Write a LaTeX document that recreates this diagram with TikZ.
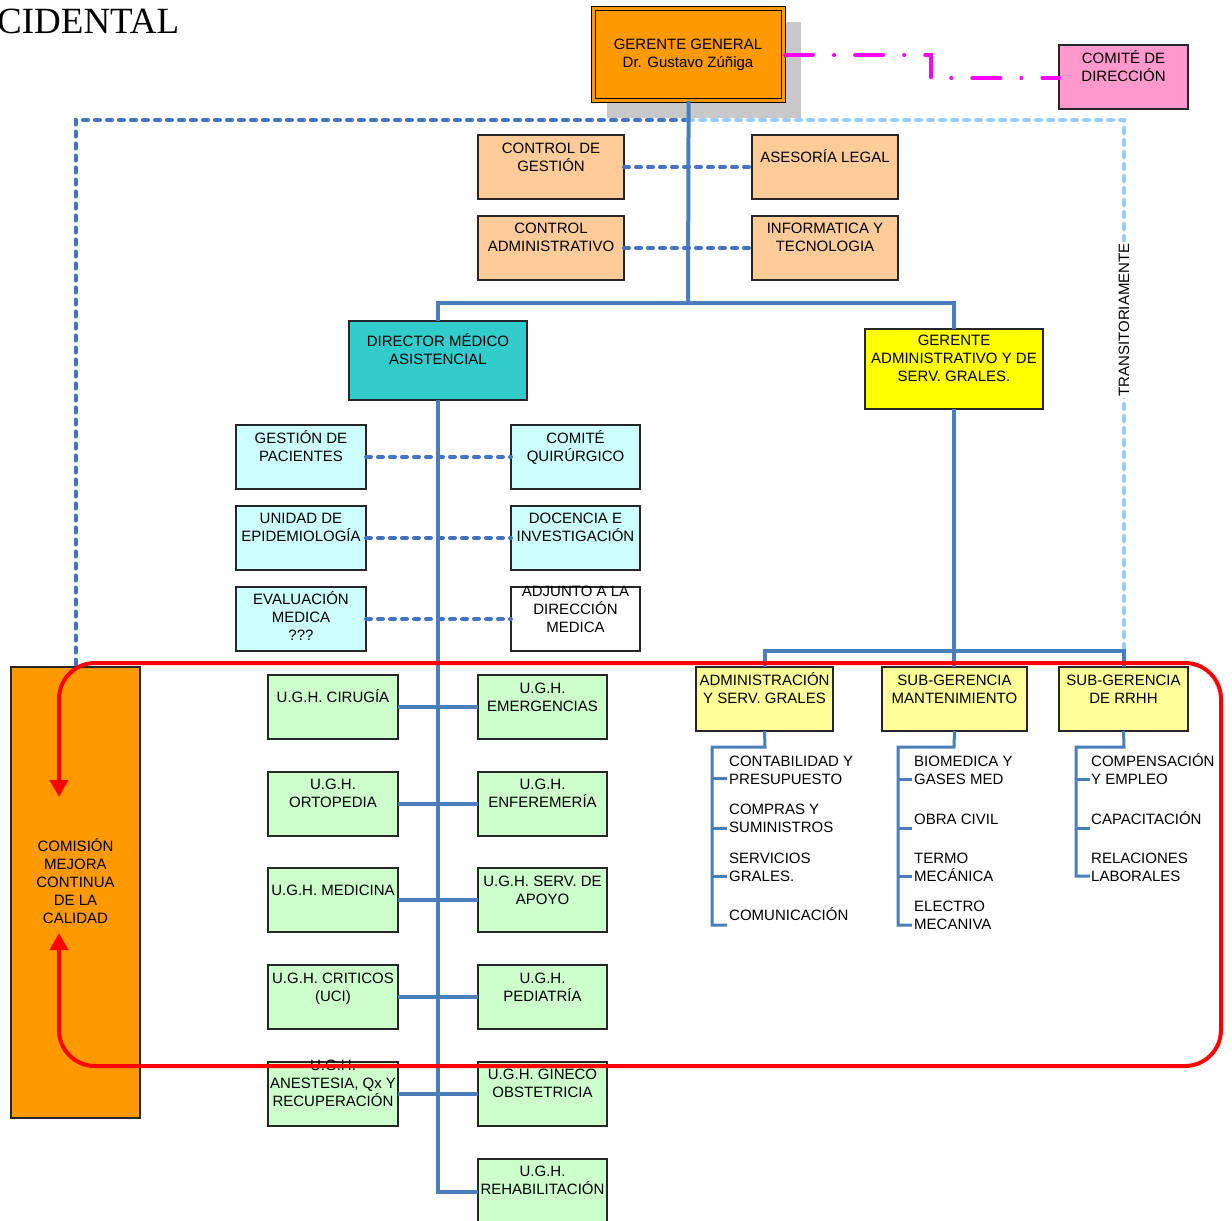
\documentclass[tikz,border=0pt]{standalone}
\usepackage{fontspec}
\setmainfont{Liberation Sans}
\newfontfamily\titlefont{Liberation Serif}
\usetikzlibrary{arrows.meta}
\definecolor{blu}{HTML}{4A7EBB}
\definecolor{dblu}{HTML}{4472C4}
\definecolor{lblu}{HTML}{99CCFF}
\definecolor{ggorange}{HTML}{FF9900}
\definecolor{peach}{HTML}{FFCC99}
\definecolor{teal2}{HTML}{33CCCC}
\definecolor{yel}{HTML}{FFFF00}
\definecolor{lyel}{HTML}{FFFF99}
\definecolor{lcyan}{HTML}{CCFFFF}
\definecolor{lgreen}{HTML}{CCFFCC}
\definecolor{pink2}{HTML}{FF99CC}
\definecolor{mag}{HTML}{FF00FF}
\definecolor{shadowgray}{HTML}{C8C8C8}
\newcommand\obox[8]{%
  \node[bx, fill=#6, minimum width={#4-#2}, minimum height={#5-#3}, anchor=north west] (#1) at (#2,#3) {};
  \node[anchor=base, inner sep=0] (#1-t) at ({(#2+#4)/2},#7) {\parbox[t]{300pt}{\centering #8}};
}
\newcommand\litem[4]{% name, x, baseline, text
  \node[anchor=base west, inner sep=0] (#1) at (#2,#3) {\parbox[t]{200pt}{\raggedright #4}};
}
\begin{document}
\begin{tikzpicture}[x=1pt,y=-1pt,
  every node/.style={font=\fontsize{15}{18}\selectfont, text=black},
  bx/.style={draw=black!85, line width=1.3pt, inner sep=0, outer sep=0},
  bl/.style={draw=blu, line width=4pt},
  dotb/.style={draw=dblu, line width=4pt, dash pattern=on 5pt off 7pt, line cap=round},
  dotl/.style={draw=lblu, line width=4pt, dash pattern=on 5pt off 7pt, line cap=round},
  magline/.style={draw=mag, line width=4pt, dash pattern=on 28pt off 21pt on 0.1pt off 21pt, line cap=round},
  redloop/.style={draw=red, line width=4pt, rounded corners=36pt,
     {Triangle[width=18pt,length=17pt]}-{Triangle[width=18pt,length=17pt]}},
  tick/.style={draw=blu, line width=3pt}
]
\useasboundingbox (0,0) rectangle (1232,1221);
\fill[white] (0,0) rectangle (1232,1221);

% title
\node[anchor=base west, inner sep=0, font=\titlefont\fontsize{37}{40}\selectfont] (title) at (-3,33) {CIDENTAL};

% shadow of gerente general
\fill[shadowgray] (607,22) rectangle (801,118);

% ---------- boxes ----------
\node[draw=black, line width=1.2pt, double=ggorange, double distance=2.5pt, fill=ggorange,
      minimum width=190, minimum height=92, anchor=north west, inner sep=0] (gg) at (593,8) {};
\node[anchor=base, inner sep=0] (gg-t) at (688,49) {\parbox[t]{300pt}{\centering GERENTE GENERAL\\Dr. Gustavo Zúñiga}};

\obox{cd}{1059}{45}{1188}{109}{pink2}{63}{COMITÉ DE\\DIRECCIÓN}

\obox{cg}{478}{135}{624}{199}{peach}{153}{CONTROL DE\\GESTIÓN}
\obox{al}{752}{135}{898}{199}{peach}{162}{ASESORÍA LEGAL}
\obox{ca}{478}{216}{624}{280}{peach}{233}{CONTROL\\ADMINISTRATIVO}
\obox{it}{752}{216}{898}{280}{peach}{233}{INFORMATICA Y\\TECNOLOGIA}

\obox{dma}{349}{321}{527}{400}{teal2}{346}{DIRECTOR MÉDICO\\ASISTENCIAL}
\obox{ga}{865}{329}{1043}{409}{yel}{345}{GERENTE\\ADMINISTRATIVO Y DE\\SERV. GRALES.}

\obox{gp}{236}{425}{366}{489}{lcyan}{443}{GESTIÓN DE\\PACIENTES}
\obox{cq}{511}{425}{640}{489}{lcyan}{443}{COMITÉ\\QUIRÚRGICO}
\obox{ue}{236}{506}{366}{570}{lcyan}{523}{UNIDAD DE\\EPIDEMIOLOGÍA}
\obox{di}{511}{506}{640}{570}{lcyan}{523}{DOCENCIA E\\INVESTIGACIÓN}
\obox{em}{236}{587}{366}{651}{lcyan}{604}{EVALUACIÓN\\MEDICA\\???}
\obox{ad}{511}{587}{640}{651}{white}{596}{ADJUNTO A LA\\DIRECCIÓN\\MEDICA}

\obox{cir}{268}{675}{398}{739}{lgreen}{702}{U.G.H. CIRUGÍA}
\obox{eme}{478}{675}{607}{739}{lgreen}{693}{U.G.H.\\EMERGENCIAS}
\obox{ort}{268}{772}{398}{836}{lgreen}{789}{U.G.H.\\ORTOPEDIA}
\obox{enf}{478}{772}{607}{836}{lgreen}{789}{U.G.H.\\ENFEREMERÍA}
\obox{med}{268}{868}{398}{932}{lgreen}{895}{U.G.H. MEDICINA}
\obox{sap}{478}{868}{607}{932}{lgreen}{886}{U.G.H. SERV. DE\\APOYO}
\obox{cri}{268}{965}{398}{1029}{lgreen}{983}{U.G.H. CRITICOS\\(UCI)}
\obox{ped}{478}{965}{607}{1029}{lgreen}{983}{U.G.H.\\PEDIATRÍA}
\obox{ane}{268}{1062}{398}{1126}{lgreen}{1070}{U.G.H.\\ANESTESIA, Qx Y\\RECUPERACIÓN}
\obox{gin}{478}{1062}{607}{1126}{lgreen}{1079}{U.G.H. GINECO\\OBSTETRICIA}
\obox{reh}{478}{1159}{607}{1225}{lgreen}{1176}{U.G.H.\\REHABILITACIÓN}

\obox{adm}{696}{667}{833}{731}{lyel}{685}{ADMINISTRACIÓN\\Y SERV. GRALES}
\obox{sm}{882}{667}{1027}{731}{lyel}{685}{SUB-GERENCIA\\MANTENIMIENTO}
\obox{rr}{1059}{667}{1188}{731}{lyel}{685}{SUB-GERENCIA\\DE RRHH}

\obox{cm}{11}{667}{140}{1118}{ggorange}{851}{COMISIÓN\\MEJORA\\CONTINUA\\DE LA\\CALIDAD}

% ---------- connectors ----------
\coordinate (jt) at (688,120);
\draw[dotb] (jt) -| (cm.north);
\draw[dotl] (jt) -- (1124,120) -- (1124,651);
\node[rotate=90, fill=white, inner sep=1pt] (tr) at (1124,320) {TRANSITORIAMENTE};

\coordinate (mg1) at (785,55);
\coordinate (mg2) at (1059,78);
\draw[magline] (mg1) -- (931,55) -- (931,78) -- (mg2);

\draw[bl] (gg.south) -- (688,303);
\draw[bl] (dma.north) -- ++(0,-18) -| (ga.north);

\draw[dotb] (cg.east) -- (al.west);
\draw[dotb] (ca.east) -- (it.west);
\draw[dotb] (gp.east) -- (cq.west);
\draw[dotb] (ue.east) -- (di.west);
\draw[dotb] (em.east) -- (ad.west);

\draw[bl] (dma.south) |- (reh.west);
\draw[bl] (cir.east) -- (eme.west);
\draw[bl] (ort.east) -- (enf.west);
\draw[bl] (med.east) -- (sap.west);
\draw[bl] (cri.east) -- (ped.west);
\draw[bl] (ane.east) -- (gin.west);

\draw[bl] (ga.south) -- (ga.south |- sm.north);
\draw[bl] (adm.north) -- ++(0,-16) -| (rr.north);

% lists
\litem{a1}{729}{766}{CONTABILIDAD Y\\PRESUPUESTO}
\litem{a2}{729}{814}{COMPRAS Y\\SUMINISTROS}
\litem{a3}{729}{863}{SERVICIOS\\GRALES.}
\litem{a4}{729}{920}{COMUNICACIÓN}
\litem{m1}{914}{766}{BIOMEDICA Y\\GASES MED}
\litem{m2}{914}{824}{OBRA CIVIL}
\litem{m3}{914}{863}{TERMO\\MECÁNICA}
\litem{m4}{914}{911}{ELECTRO\\MECANIVA}
\litem{r1}{1091}{766}{COMPENSACIÓN\\Y EMPLEO}
\litem{r2}{1091}{824}{CAPACITACIÓN}
\litem{r3}{1091}{863}{RELACIONES\\LABORALES}

\draw[tick] (adm.south) -- (765,747) -- (712,747) -- (712,925) -- (727,925);
\draw[tick] (712,778) -- (727,778);
\draw[tick] (712,828) -- (727,828);
\draw[tick] (712,876) -- (727,876);

\draw[tick] (sm.south) -- (954,747) -- (898,747) -- (898,925) -- (912,925);
\draw[tick] (898,779) -- (912,779);
\draw[tick] (898,828) -- (912,828);
\draw[tick] (898,876) -- (912,876);

\draw[tick] (rr.south) -- (1124,747) -- (1076,747) -- (1076,876) -- (1090,876);
\draw[tick] (1076,779) -- (1090,779);
\draw[tick] (1076,828) -- (1090,828);

% red loop
\coordinate (ra) at (59,797);
\coordinate (rb) at (59,933);
\draw[redloop] (ra) -- (59,663) -- (1221,663) -- (1221,1066) -- (59,1066) -- (rb);
\end{tikzpicture}
\end{document}
